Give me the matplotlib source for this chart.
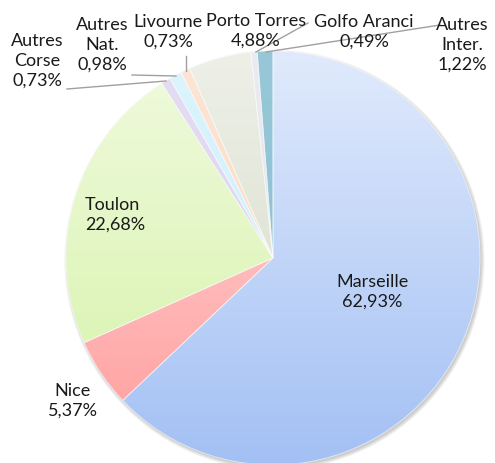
import numpy as np
import matplotlib
matplotlib.use("Agg")
import matplotlib.pyplot as plt
from matplotlib.colors import to_rgb
from matplotlib.patches import Circle

labels = ["Marseille", "Nice", "Toulon", "Autres\nCorse", "Autres\nNat.", "Livourne",
          "Porto Torres", "Golfo Aranci", "Autres\nInter."]
values = [62.93, 5.37, 22.68, 0.73, 0.98, 0.73, 4.88, 0.49, 1.22]
pct_text = ["62,93%", "5,37%", "22,68%", "0,73%", "0,98%", "0,73%", "4,88%", "0,49%", "1,22%"]
top_colors = ["#e0eafc", "#ffdcdc", "#f0fadf", "#e4def2", "#dcf4fd", "#fde6d6", "#eef0e8", "#ebebf2", "#98c8d8"]
bot_colors = ["#a3c0f4", "#ff9c9c", "#d5f3a6", "#d8cdec", "#c8eefc", "#fcd3b6", "#d2d9c2", "#dedee9", "#86bccf"]

W, H = 495, 463
cx, cy_img, R = 273, 258, 207
cy = H - cy_img

plt.rcParams['font.family'] = ['Lato', 'DejaVu Sans']
fig = plt.figure(figsize=(W / 100, H / 100), dpi=100)
ax = fig.add_axes([0, 0, 1, 1])

# soft shadow
for i, a in enumerate([0.05, 0.05, 0.05, 0.05]):
    ax.add_patch(Circle((cx + 1.5, cy - 2), R + 3 - i, color="black", alpha=a, lw=0, zorder=0))

wedges, _ = ax.pie(values, startangle=90, counterclock=False, center=(cx, cy), radius=R,
                   wedgeprops=dict(linewidth=0.6, edgecolor=(1, 1, 1, 0.6)), frame=True)

grad = np.linspace(0, 1, 256)[:, None]
for w, tc, bc in zip(wedges, top_colors, bot_colors):
    t = np.array(to_rgb(tc)); b = np.array(to_rgb(bc))
    img = t[None, None, :] * (1 - grad[:, :, None]) + b[None, None, :] * grad[:, :, None]
    w.set_facecolor("none")
    im = ax.imshow(img, extent=(cx - R, cx + R, cy - R, cy + R), origin="upper",
                   aspect="auto", zorder=1, interpolation="bilinear")
    im.set_clip_path(w)
    w.set_zorder(2)

ax.set_xlim(0, W)
ax.set_ylim(0, H)
ax.set_aspect("auto")
ax.axis("off")

# label positions (image pixel coords of text centre)
pos = [(372, 292), (73, 401), (85, 215), (37, 61), (102, 45), (168, 32), (256, 31), (364, 32), (462, 45)]
ha = ["center", "center", "left", "center", "center", "center", "center", "center", "center"]
for lab, p, (x, y), h in zip(labels, pct_text, pos, ha):
    ax.text(x, H - y, f"{lab}\n{p}", ha=h, va="center", fontsize=13, color="#1a1a1a",
            linespacing=1.3, zorder=5)

lc = "#a0a0a0"
leaders = [
    [(67, 89), (166, 81)],
    [(132, 75), (176, 76)],
    [(186, 56), (186, 71)],
    [(308, 23), (256, 52)],
    [(440, 25), (266, 52)],
]
for seg in leaders:
    xs = [p[0] for p in seg]; ys = [H - p[1] for p in seg]
    ax.plot(xs, ys, color=lc, lw=1.0, zorder=4)

fig.savefig("out.png", dpi=100)
